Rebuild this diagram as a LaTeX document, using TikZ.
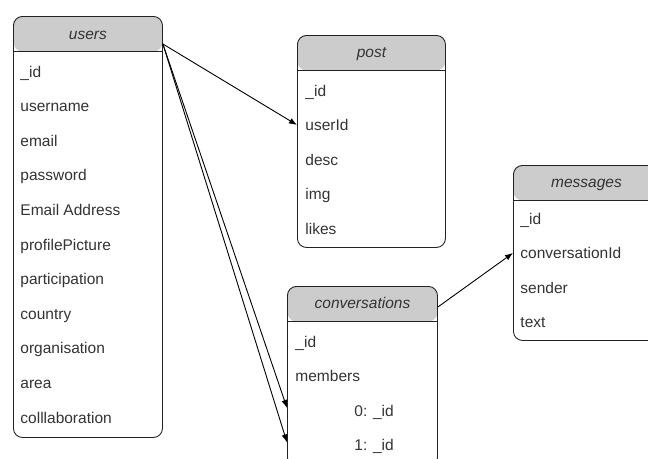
\documentclass[tikz,border=0pt]{standalone}
\usepackage{fontspec}
\setmainfont{Liberation Sans}
\usetikzlibrary{arrows.meta}

\definecolor{headgray}{HTML}{CCCCCC}
\definecolor{textgray}{HTML}{333333}
\definecolor{edgegray}{HTML}{222222}

\begin{document}
\begin{tikzpicture}[%
        > = {Latex[length = 8pt, width = 6pt]},
        x = 1pt, y = -1pt,
        line width = 0.9pt,
        table/.style = {draw = edgegray, rounded corners = 9pt, anchor = north west, inner sep = 0pt,
            path picture = {
                \fill[headgray] (path picture bounding box.north west)
                    rectangle ([yshift = -35pt]path picture bounding box.north east);
                \draw[edgegray, line width = 0.9pt]
                    ([yshift = -35pt]path picture bounding box.north west) --
                    ([yshift = -35pt]path picture bounding box.north east);
            }},
        title/.style = {anchor = base, inner sep = 0pt, text = textgray,
            font = \fontsize{15.5}{18}\selectfont\itshape},
        field/.style = {anchor = base west, inner sep = 0pt, text = textgray,
            font = \fontsize{15.5}{18}\selectfont}
    ]

        \useasboundingbox (0, 0) rectangle (648, 458);
        \clip (0, 0) rectangle (648, 458);

        % The four collections.
        \node[table, minimum width = 149pt, minimum height = 421pt] (users) at (13, 16) {};
        \node[table, minimum width = 148pt, minimum height = 212pt] (post) at (297, 35) {};
        \node[table, minimum width = 146pt, minimum height = 175pt] (messages) at (513, 165) {};
        \node[table, minimum width = 150pt, minimum height = 180pt] (conv) at (287, 286) {};

        % Titles in the grey headers.
        \node[title] (users-title) at ([yshift = -23pt]users.north) {users};
        \node[title] (post-title) at ([yshift = -22pt]post.north) {post};
        \node[title] (messages-title) at ([yshift = -22pt]messages.north) {messages};
        \node[title] (conv-title) at ([yshift = -22pt]conv.north) {conversations};

        % Fields of each collection.
        \foreach \f [count = \i from 0] in {\_id, username, email, password, Email Address,
                profilePicture, participation, country, organisation, area, colllaboration}
            \node[field] (users-\i) at ([shift = {(7, 61 + 34.6*\i)}]users.north west) {\f};
        \foreach \f [count = \i from 0] in {\_id, userId, desc, img, likes}
            \node[field] (post-\i) at ([shift = {(8, 61 + 34.5*\i)}]post.north west) {\f};
        \foreach \f [count = \i from 0] in {\_id, conversationId, sender, text}
            \node[field] (messages-\i) at ([shift = {(7, 59 + 34.5*\i)}]messages.north west) {\f};
        \foreach \f/\dx [count = \i from 0] in {\_id/8, members/8, 0: \_id/67, 1: \_id/67}
            \node[field] (conv-\i) at ([shift = {(\dx, 61 + 34.5*\i)}]conv.north west) {\f};

        % References between the collections.
        \coordinate (users-out) at ([yshift = -28pt]users.north east);
        \coordinate (conv-out) at ([yshift = -21pt]conv.north east);
        \draw[->] (users-out) -- (post.west |- post-1);
        \draw[->] (users-out) -- ([yshift = 4pt]conv.west |- conv-2);
        \draw[->] (users-out) -- ([yshift = 4pt]conv.west |- conv-3);
        \draw[->] (conv-out) -- (messages.west |- messages-1);
    \end{tikzpicture}
\end{document}
